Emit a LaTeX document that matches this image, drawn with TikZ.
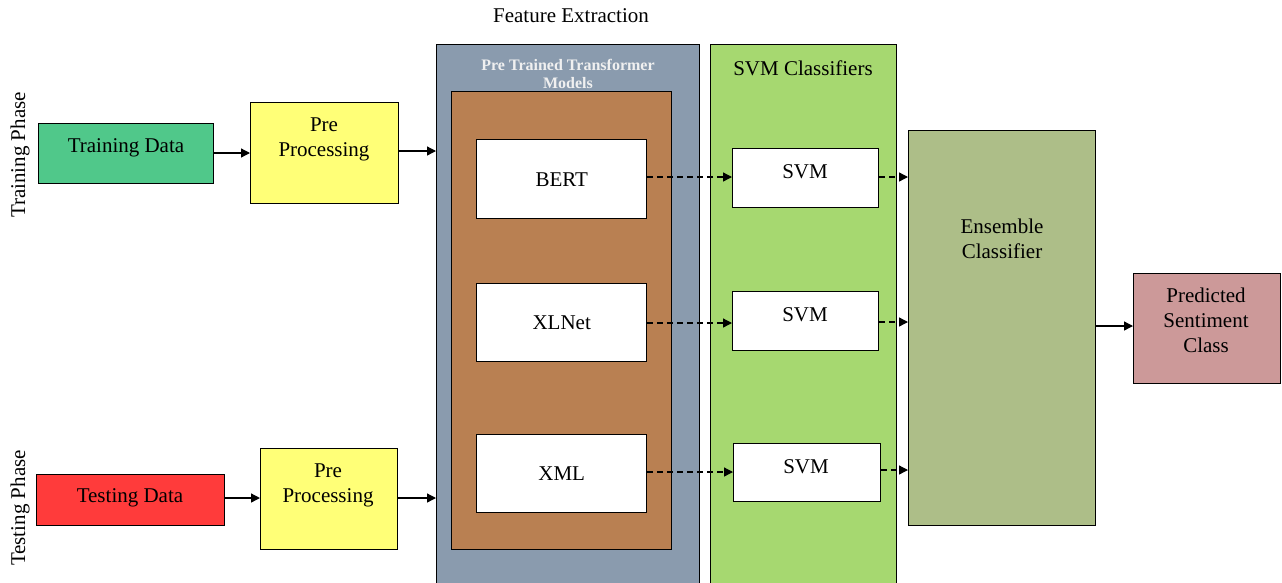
\documentclass[tikz,border=0pt]{standalone}
\usepackage{fontspec}
\setmainfont{Liberation Serif}
\usetikzlibrary{arrows.meta}
\definecolor{tdgreen}{HTML}{50C88A}
\definecolor{ppyellow}{HTML}{FFFF77}
\definecolor{tdred}{HTML}{FF3B3B}
\definecolor{greybox}{HTML}{8A9BAE}
\definecolor{brownbox}{HTML}{B98052}
\definecolor{svmgreen}{HTML}{A6D870}
\definecolor{ensgreen}{HTML}{ADBE88}
\definecolor{predpink}{HTML}{CC9999}
\tikzset{
  blk/.style={draw=black, line width=1.4pt, inner sep=0pt, anchor=north west},
  txt/.style={font=\fontsize{21}{25}\selectfont, align=center, inner sep=0pt},
  arr/.style={line width=1.3pt, -{Triangle[length=9pt,width=9pt]}},
  darr/.style={arr, dash pattern=on 6pt off 4pt},
}
\begin{document}
\begin{tikzpicture}[x=1pt,y=-1pt]
\useasboundingbox (0,0) rectangle (1282,582);
% containers
\node[blk, fill=greybox, minimum width=263pt, minimum height=545pt] (grey) at (436,44) {};
\node[blk, fill=brownbox, minimum width=220pt, minimum height=458pt] (brown) at (451,91) {};
\node[blk, fill=svmgreen, minimum width=186pt, minimum height=545pt] (svmc) at (710,44) {};
\node[font=\fontsize{16}{18}\selectfont\bfseries, text=white!94!black, align=center, inner sep=0pt] (gtitle) at (568,74) {Pre Trained Transformer\\Models};
\node[txt] (stitle) at (803,68) {SVM Classifiers};
\node[font=\fontsize{21}{25}\selectfont, inner sep=0pt] (fe) at (571,16) {Feature Extraction};
% phases
\node[txt, rotate=90] (trp) at (20,155) {Training Phase};
\node[txt, rotate=90] (tsp) at (20,508) {Testing Phase};
% left boxes
\node[blk, fill=tdgreen, minimum width=175pt, minimum height=60pt] (trd) at (38,123) {};
\node[txt] at (126,148) {Training Data};
\node[blk, fill=ppyellow, minimum width=148pt, minimum height=101pt] (pp1) at (250,102) {};
\node[txt] at (324,139) {Pre\\Processing};
\node[blk, fill=tdred, minimum width=188pt, minimum height=51pt] (tsd) at (36,474) {};
\node[txt] at (130,498) {Testing Data};
\node[blk, fill=ppyellow, minimum width=137pt, minimum height=101pt] (pp2) at (260,448) {};
\node[txt] at (328,485) {Pre\\Processing};
% models
\node[blk, fill=white, minimum width=170pt, minimum height=79pt] (bert) at (476,139) {};
\node[txt] at (bert.center) {BERT};
\node[blk, fill=white, minimum width=170pt, minimum height=78pt] (xlnet) at (476,283) {};
\node[txt] at (xlnet.center) {XLNet};
\node[blk, fill=white, minimum width=170pt, minimum height=78pt] (xml) at (476,434) {};
\node[txt] at (xml.center) {XML};
% svms
\node[blk, fill=white, minimum width=146pt, minimum height=59pt] (s1) at (732,148) {};
\node[txt] at (805,172) {SVM};
\node[blk, fill=white, minimum width=146pt, minimum height=59pt] (s2) at (732,291) {};
\node[txt] at (805,315) {SVM};
\node[blk, fill=white, minimum width=147pt, minimum height=58pt] (s3) at (733,443) {};
\node[txt] at (806,467) {SVM};
% ensemble & output
\node[blk, fill=ensgreen, minimum width=187pt, minimum height=395pt] (ens) at (908,130) {};
\node[txt] at (1002,239) {Ensemble\\Classifier};
\node[blk, fill=predpink, minimum width=147pt, minimum height=110pt] (pred) at (1133,273) {};
\node[txt] at (1206,320) {Predicted\\Sentiment\\Class};
% connectors
\draw[arr] (trd.east |- 0,153) -- (pp1.west |- 0,153);
\draw[arr] (pp1.east |- 0,151) -- (grey.west |- 0,151);
\draw[arr] (tsd.east |- 0,498) -- (pp2.west |- 0,498);
\draw[arr] (pp2.east |- 0,498) -- (grey.west |- 0,498);
\draw[darr] (bert.east |- 0,177) -- (s1.west |- 0,177);
\draw[darr] (xlnet.east |- 0,323) -- (s2.west |- 0,323);
\draw[darr] (xml.east |- 0,472) -- (s3.west |- 0,472);
\draw[darr] (s1.east |- 0,177) -- (ens.west |- 0,177);
\draw[darr] (s2.east |- 0,322) -- (ens.west |- 0,322);
\draw[darr] (s3.east |- 0,470) -- (ens.west |- 0,470);
\draw[arr] (ens.east |- 0,326) -- (pred.west |- 0,326);
\end{tikzpicture}
\end{document}
